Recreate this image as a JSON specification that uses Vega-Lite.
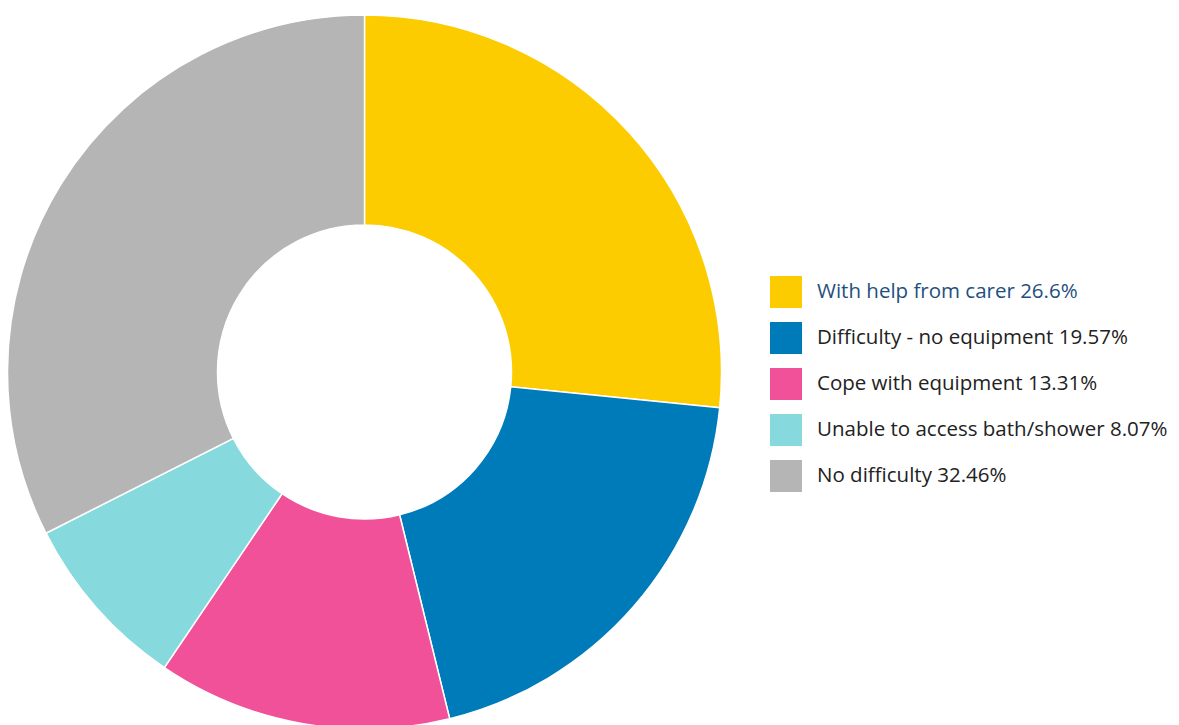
{
  "$schema": "https://vega.github.io/schema/vega-lite/v6.json",
  "width": 729,
  "height": 744,
  "padding": 0,
  "background": "white",
  "view": {"stroke": null},
  "data": {
    "values": [
      {"idx": 1, "label": "With help from carer 26.6%", "value": 26.6},
      {"idx": 2, "label": "Difficulty - no equipment 19.57%", "value": 19.57},
      {"idx": 3, "label": "Cope with equipment 13.31%", "value": 13.31},
      {"idx": 4, "label": "Unable to access bath/shower 8.07%", "value": 8.07},
      {"idx": 5, "label": "No difficulty 32.46%", "value": 32.46}
    ]
  },
  "mark": {"type": "arc", "outerRadius": 357, "innerRadius": 147, "stroke": "white", "strokeWidth": 1.5},
  "encoding": {
    "theta": {"field": "value", "type": "quantitative", "stack": true},
    "order": {"field": "idx", "type": "quantitative"},
    "color": {
      "field": "label",
      "type": "nominal",
      "sort": null,
      "scale": {
        "domain": ["With help from carer 26.6%", "Difficulty - no equipment 19.57%", "Cope with equipment 13.31%", "Unable to access bath/shower 8.07%", "No difficulty 32.46%"],
        "range": ["#fccc00", "#007bba", "#f05198", "#86dade", "#b5b5b5"]
      },
      "legend": {
        "title": null,
        "orient": "none",
        "legendX": 770,
        "legendY": 276,
        "symbolType": "square",
        "symbolSize": 1024,
        "symbolStrokeWidth": 0,
        "symbolOpacity": 1,
        "rowPadding": 14,
        "labelFont": "Open Sans",
        "labelFontSize": 20.5,
        "labelOffset": 15,
        "labelLimit": 500,
        "labelColor": {"expr": "datum.value === 'With help from carer 26.6%' ? '#1f4f80' : '#222222'"}
      }
    }
  }
}
